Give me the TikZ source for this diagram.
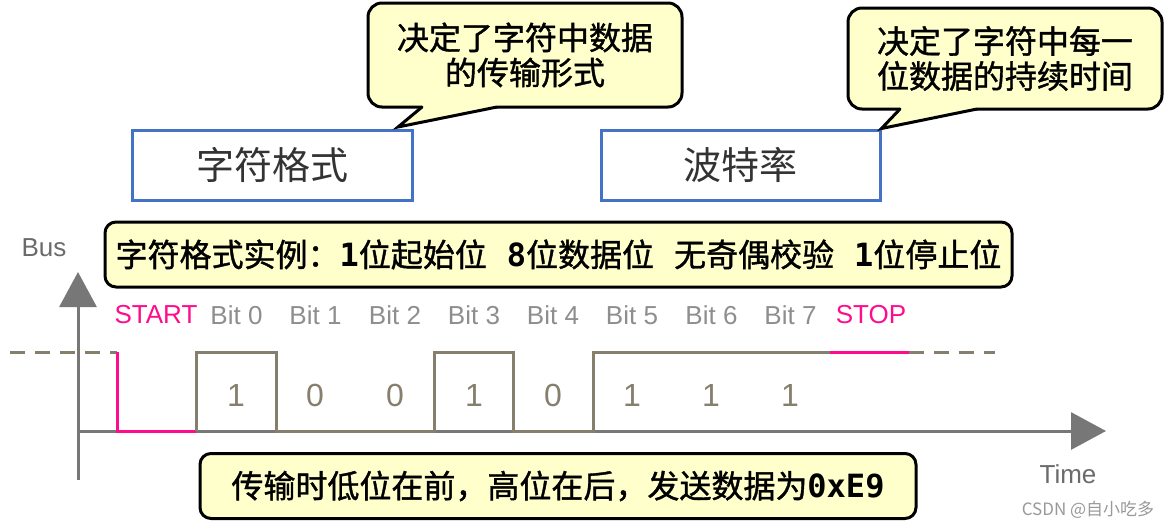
\documentclass[tikz,border=0pt]{standalone}
\usepackage{fontspec}
\setmainfont{Liberation Sans}
\newfontfamily\cjk{Noto Sans CJK SC}
\newfontfamily\cjkh{Noto Sans CJK SC}[FakeBold=1.2]
\newfontfamily\monof{DejaVu Sans Mono}
\usetikzlibrary{arrows.meta}
\definecolor{callfill}{HTML}{FFFFCC}
\definecolor{boxblue}{HTML}{4472C4}
\definecolor{sig}{HTML}{877F6E}
\definecolor{pinkc}{HTML}{FF0C8C}
\definecolor{axisgray}{HTML}{777777}
\definecolor{labgray}{HTML}{8E8E8E}
\definecolor{darktext}{HTML}{333333}
\tikzset{
  callout/.style={draw=black, line width=3pt, fill=callfill, rounded corners=14pt,
    align=center, inner sep=0pt, font=\cjkh\fontsize{32}{35}\selectfont},
  tailside/.style={draw=black, line width=3pt, line cap=round, line join=miter},
  bluebox/.style={draw=boxblue, line width=3pt, inner sep=0pt, text=darktext,
    font=\cjk\fontsize{38}{44}\selectfont},
  notebox/.style={draw=black, line width=3pt, fill=callfill, rounded corners=11pt,
    inner sep=0pt, font=\cjkh\fontsize{32}{36}\selectfont},
  bitlabel/.style={font=\fontsize{26}{30}\selectfont, text=labgray, inner sep=0pt},
  startlabel/.style={font=\fontsize{26}{30}\selectfont, text=pinkc, inner sep=0pt},
  bitval/.style={font=\fontsize{32}{36}\selectfont, text=sig, inner sep=0pt},
  sigline/.style={draw=sig, line width=3pt, line join=miter},
  pinkline/.style={draw=pinkc, line width=3pt, line join=miter},
  dashline/.style={draw=sig, line width=3pt, dash pattern=on 15pt off 10pt},
  axisline/.style={draw=axisgray, line width=3pt, -{Triangle[length=35pt,width=37pt]}},
  axislabel/.style={font=\fontsize{26}{30}\selectfont, text=axisgray!90!black, inner sep=0pt},
}
\newcommand{\bd}[1]{{\monof\bfseries #1}}
\begin{document}
\begin{tikzpicture}[x=1pt,y=-1pt]
\useasboundingbox[fill=white] (0,0) rectangle (1171,528);

% blue boxes
\node[bluebox, minimum width=280pt, minimum height=70pt] (b1) at (272,165) {字符格式};
\node[bluebox, minimum width=279pt, minimum height=70pt] (b2) at (740.5,165) {波特率};

% callout 1
\node[callout, minimum width=314pt, minimum height=104pt] (c1) at (525,55) {决定了字符中数据\\的传输形式};
\coordinate (t1) at (398,127);
\fill[callfill] (422,104.5) -- (422,107) -- (t1) -- (497,107) -- (497,104.5) -- cycle;
\draw[tailside] (422,107) -- (t1) -- (497,107);

% callout 2
\node[callout, minimum width=314pt, minimum height=101pt] (c2) at (1005,58.5) {决定了字符中每一\\位数据的持续时间};
\coordinate (t2) at (b2.north east);
\fill[callfill] (900,105.5) -- (900,109) -- (t2) -- (977,109) -- (977,105.5) -- cycle;
\draw[tailside] (900,109) -- (t2) -- (977,109);

% axes
\coordinate (o) at (78,431);
\coordinate (ybot) at (78,480);
\coordinate (ytop) at (78,272);
\coordinate (xend) at (1106,431);
\draw[axisline] (ybot) -- (ytop);
\draw[axisline] (o) -- (xend);
\node[axislabel] (bus) at (44,248) {Bus};
\node[axislabel] (time) at (1068,474) {Time};

% signal
\draw[dashline] (10,352) -- (117,352);
\draw[pinkline] (117,352) -- (117,431) -- (196,431);
\draw[sigline] (196,431) -- (196,352) -- (276,352) -- (276,431) -- (434,431)
  -- (434,352) -- (513,352) -- (513,431) -- (593,431) -- (593,352) -- (830,352);
\draw[pinkline] (830,352) -- (909,352);
\draw[dashline] (909,352) -- (995,352);

% bit labels
\node[startlabel] (ls) at (156,315) {START};
\node[bitlabel] (l0) at (236.5,315) {Bit 0};
\node[bitlabel] (l1) at (315.5,315) {Bit 1};
\node[bitlabel] (l2) at (395,315) {Bit 2};
\node[bitlabel] (l3) at (474,315) {Bit 3};
\node[bitlabel] (l4) at (553,315) {Bit 4};
\node[bitlabel] (l5) at (632,315) {Bit 5};
\node[bitlabel] (l6) at (711.5,315) {Bit 6};
\node[bitlabel] (l7) at (790.5,315) {Bit 7};
\node[startlabel] (lp) at (871,315) {STOP};

% bit values
\node[bitval] (v0) at (236,395) {1};
\node[bitval] (v1) at (315,395) {0};
\node[bitval] (v2) at (395,395) {0};
\node[bitval] (v3) at (474,395) {1};
\node[bitval] (v4) at (553,395) {0};
\node[bitval] (v5) at (632,395) {1};
\node[bitval] (v6) at (711,395) {1};
\node[bitval] (v7) at (790,395) {1};

% note boxes
\node[notebox, minimum width=907pt, minimum height=65pt] (n1) at (558.5,254.5)
  {字符格式实例：\bd{1}位起始位\hspace{20pt}\bd{8}位数据位\hspace{20pt}无奇偶校验\hspace{20pt}\bd{1}位停止位};
\node[notebox, minimum width=716pt, minimum height=65pt] (n2) at (558,486)
  {传输时低位在前，高位在后，发送数据为\bd{0xE9}};

% watermark
\node[font=\cjk\fontsize{17}{20}\selectfont, text=black!40, inner sep=0pt] (wm) at (1088,510) {CSDN @自小吃多};
\end{tikzpicture}
\end{document}
